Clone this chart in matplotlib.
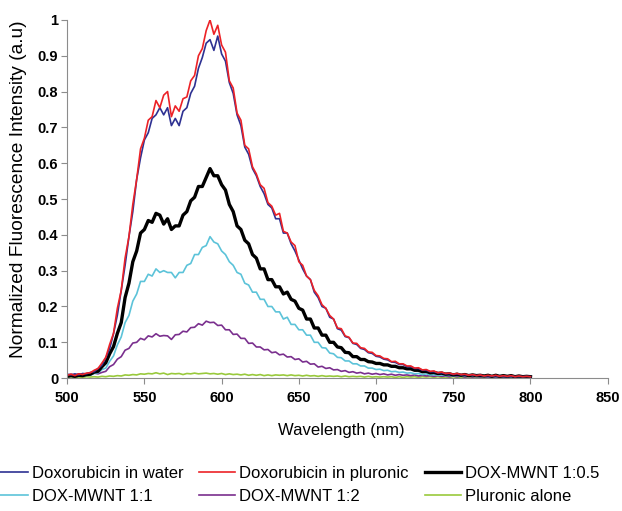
import numpy as np
import matplotlib
matplotlib.use("Agg")
import matplotlib.pyplot as plt

plt.rcParams["font.family"] = ["Liberation Sans", "DejaVu Sans"]

# wavelength grid, 2.5 nm steps from 500 to 800 nm
wavelength = np.arange(500, 800.1, 2.5)

dox_water = [
    0.011, 0.009, 0.012, 0.009, 0.013, 0.012, 0.016, 0.018, 0.027, 0.036,
    0.057, 0.082, 0.124, 0.176, 0.245, 0.315, 0.395, 0.465, 0.555, 0.615,
    0.665, 0.685, 0.725, 0.735, 0.755, 0.735, 0.755, 0.705, 0.725, 0.705,
    0.745, 0.755, 0.795, 0.815, 0.865, 0.895, 0.935, 0.945, 0.915, 0.955,
    0.905, 0.885, 0.825, 0.795, 0.735, 0.705, 0.645, 0.625, 0.585, 0.565,
    0.535, 0.515, 0.485, 0.475, 0.445, 0.445, 0.405, 0.405, 0.375, 0.355,
    0.330, 0.305, 0.285, 0.275, 0.240, 0.225, 0.200, 0.195, 0.170, 0.165,
    0.138, 0.134, 0.116, 0.113, 0.097, 0.094, 0.083, 0.080, 0.071, 0.069,
    0.061, 0.059, 0.053, 0.051, 0.045, 0.044, 0.038, 0.038, 0.032, 0.032,
    0.027, 0.027, 0.022, 0.022, 0.018, 0.018, 0.015, 0.015, 0.012, 0.013,
    0.010, 0.012, 0.009, 0.010, 0.008, 0.009, 0.007, 0.008, 0.006, 0.007,
    0.005, 0.007, 0.005, 0.006, 0.004, 0.006, 0.004, 0.005, 0.004, 0.005,
    0.004,
]
dox_pluronic = [
    0.008, 0.011, 0.007, 0.012, 0.010, 0.014, 0.015, 0.022, 0.027, 0.042,
    0.058, 0.094, 0.125, 0.195, 0.245, 0.335, 0.395, 0.485, 0.555, 0.640,
    0.670, 0.720, 0.730, 0.775, 0.755, 0.790, 0.800, 0.730, 0.760, 0.745,
    0.780, 0.785, 0.830, 0.845, 0.900, 0.920, 0.970, 1.000, 0.960, 0.985,
    0.930, 0.910, 0.830, 0.810, 0.740, 0.720, 0.650, 0.640, 0.590, 0.570,
    0.540, 0.530, 0.490, 0.480, 0.455, 0.460, 0.410, 0.405, 0.380, 0.370,
    0.325, 0.315, 0.285, 0.275, 0.245, 0.230, 0.205, 0.195, 0.175, 0.165,
    0.140, 0.138, 0.118, 0.114, 0.098, 0.097, 0.085, 0.083, 0.073, 0.072,
    0.063, 0.062, 0.055, 0.054, 0.046, 0.047, 0.040, 0.040, 0.034, 0.034,
    0.028, 0.029, 0.023, 0.024, 0.019, 0.020, 0.015, 0.017, 0.013, 0.014,
    0.011, 0.013, 0.010, 0.011, 0.008, 0.010, 0.007, 0.009, 0.006, 0.008,
    0.006, 0.008, 0.005, 0.007, 0.005, 0.007, 0.004, 0.006, 0.004, 0.005,
    0.004,
]
mwnt_1_05 = [
    0.005, 0.007, 0.005, 0.008, 0.007, 0.010, 0.011, 0.017, 0.019, 0.032,
    0.043, 0.068, 0.088, 0.125, 0.155, 0.225, 0.265, 0.325, 0.355, 0.405,
    0.415, 0.440, 0.435, 0.460, 0.455, 0.430, 0.445, 0.415, 0.425, 0.425,
    0.455, 0.465, 0.495, 0.505, 0.535, 0.535, 0.560, 0.585, 0.565, 0.565,
    0.540, 0.525, 0.485, 0.465, 0.425, 0.415, 0.385, 0.375, 0.345, 0.335,
    0.305, 0.305, 0.275, 0.275, 0.255, 0.255, 0.235, 0.240, 0.220, 0.215,
    0.195, 0.190, 0.165, 0.165, 0.140, 0.140, 0.120, 0.120, 0.100, 0.100,
    0.087, 0.085, 0.072, 0.071, 0.060, 0.060, 0.052, 0.052, 0.046, 0.045,
    0.041, 0.041, 0.037, 0.037, 0.033, 0.033, 0.029, 0.029, 0.026, 0.026,
    0.022, 0.022, 0.018, 0.019, 0.015, 0.016, 0.013, 0.014, 0.011, 0.012,
    0.009, 0.011, 0.008, 0.010, 0.007, 0.009, 0.007, 0.008, 0.006, 0.008,
    0.005, 0.008, 0.005, 0.007, 0.005, 0.007, 0.004, 0.006, 0.004, 0.005,
    0.004,
]
mwnt_1_1 = [
    0.004, 0.006, 0.004, 0.007, 0.005, 0.008, 0.008, 0.013, 0.015, 0.024,
    0.028, 0.047, 0.062, 0.093, 0.115, 0.155, 0.175, 0.215, 0.235, 0.270,
    0.270, 0.290, 0.285, 0.305, 0.295, 0.300, 0.295, 0.295, 0.280, 0.295,
    0.295, 0.315, 0.320, 0.345, 0.345, 0.365, 0.370, 0.395, 0.380, 0.375,
    0.355, 0.345, 0.325, 0.315, 0.295, 0.290, 0.265, 0.260, 0.240, 0.240,
    0.220, 0.220, 0.200, 0.200, 0.185, 0.185, 0.165, 0.170, 0.150, 0.150,
    0.135, 0.135, 0.120, 0.120, 0.100, 0.100, 0.085, 0.084, 0.070, 0.068,
    0.058, 0.057, 0.048, 0.048, 0.040, 0.040, 0.034, 0.034, 0.028, 0.028,
    0.024, 0.025, 0.021, 0.022, 0.018, 0.019, 0.016, 0.017, 0.014, 0.015,
    0.012, 0.013, 0.010, 0.012, 0.009, 0.010, 0.008, 0.009, 0.007, 0.008,
    0.006, 0.008, 0.005, 0.007, 0.005, 0.006, 0.004, 0.006, 0.004, 0.005,
    0.003, 0.005, 0.003, 0.005, 0.003, 0.004, 0.003, 0.004, 0.002, 0.004,
    0.003,
]
mwnt_1_2 = [
    0.008, 0.011, 0.008, 0.012, 0.009, 0.012, 0.011, 0.014, 0.012, 0.016,
    0.019, 0.032, 0.038, 0.053, 0.060, 0.078, 0.083, 0.098, 0.100, 0.111,
    0.107, 0.118, 0.115, 0.124, 0.117, 0.119, 0.118, 0.108, 0.121, 0.122,
    0.131, 0.129, 0.141, 0.142, 0.152, 0.148, 0.159, 0.155, 0.156, 0.147,
    0.148, 0.135, 0.135, 0.122, 0.123, 0.111, 0.111, 0.097, 0.098, 0.087,
    0.087, 0.079, 0.080, 0.071, 0.073, 0.065, 0.067, 0.059, 0.060, 0.052,
    0.054, 0.045, 0.047, 0.039, 0.040, 0.031, 0.033, 0.027, 0.029, 0.023,
    0.024, 0.019, 0.021, 0.016, 0.018, 0.014, 0.016, 0.012, 0.014, 0.011,
    0.013, 0.010, 0.012, 0.009, 0.011, 0.008, 0.010, 0.008, 0.009, 0.007,
    0.009, 0.006, 0.008, 0.006, 0.007, 0.005, 0.007, 0.005, 0.006, 0.004,
    0.006, 0.004, 0.006, 0.003, 0.005, 0.003, 0.005, 0.003, 0.005, 0.002,
    0.004, 0.002, 0.004, 0.002, 0.004, 0.002, 0.004, 0.002, 0.004, 0.002,
    0.003,
]
pluronic_alone = [
    0.002, 0.004, 0.002, 0.003, 0.002, 0.004, 0.003, 0.004, 0.003, 0.005,
    0.004, 0.006, 0.005, 0.007, 0.006, 0.009, 0.008, 0.010, 0.009, 0.012,
    0.011, 0.013, 0.012, 0.015, 0.012, 0.014, 0.010, 0.013, 0.012, 0.013,
    0.010, 0.013, 0.012, 0.014, 0.012, 0.013, 0.014, 0.012, 0.013, 0.011,
    0.013, 0.010, 0.012, 0.010, 0.011, 0.009, 0.011, 0.008, 0.010, 0.008,
    0.010, 0.007, 0.009, 0.007, 0.009, 0.008, 0.009, 0.007, 0.009, 0.007,
    0.008, 0.006, 0.008, 0.006, 0.007, 0.005, 0.007, 0.005, 0.006, 0.005,
    0.006, 0.004, 0.006, 0.004, 0.005, 0.004, 0.005, 0.003, 0.005, 0.003,
    0.004, 0.003, 0.004, 0.003, 0.004, 0.002, 0.004, 0.002, 0.004, 0.003,
    0.004, 0.002, 0.004, 0.003, 0.004, 0.002, 0.004, 0.002, 0.003, 0.002,
    0.004, 0.002, 0.003, 0.002, 0.004, 0.002, 0.003, 0.002, 0.004, 0.002,
    0.003, 0.002, 0.003, 0.002, 0.004, 0.002, 0.003, 0.002, 0.003, 0.002,
    0.003,
]

# (label, data, colour, linewidth) in drawing order
series = [
    ("Pluronic alone", pluronic_alone, "#99c93c", 1.2),
    ("DOX-MWNT 1:2", mwnt_1_2, "#7a2f8e", 1.2),
    ("DOX-MWNT 1:1", mwnt_1_1, "#5cc3d9", 1.2),
    ("DOX-MWNT 1:0.5", mwnt_1_05, "#000000", 2.4),
    ("Doxorubicin in water", dox_water, "#2e3192", 1.2),
    ("Doxorubicin in pluronic", dox_pluronic, "#ec2227", 1.2),
]
legend_order = ["Doxorubicin in water", "DOX-MWNT 1:1",
                "Doxorubicin in pluronic", "DOX-MWNT 1:2",
                "DOX-MWNT 1:0.5", "Pluronic alone"]

fig = plt.figure(figsize=(6.22, 5.11), dpi=100)
ax = fig.add_axes([0.108, 0.260, 0.869, 0.701])

lines = {}
for label, data, color, lw in series:
    lines[label], = ax.plot(wavelength, data, color=color, lw=lw, label=label)

ax.set_xlim(500, 850)
ax.set_ylim(0, 1)
ax.set_xticks(np.arange(500, 851, 50))
ax.set_yticks(np.arange(0, 1.01, 0.1))
ax.set_yticklabels(["0"] + [f"{v:.1f}" for v in np.arange(0.1, 0.95, 0.1)] + ["1"])

for side in ("top", "right"):
    ax.spines[side].set_visible(False)
for side in ("left", "bottom"):
    ax.spines[side].set_color("#8c8c8c")
ax.tick_params(axis="both", direction="out", length=4, color="#8c8c8c",
               labelsize=10.5)
ax.tick_params(axis="x", pad=5)
ax.tick_params(axis="y", pad=2.5)
for t in ax.get_xticklabels() + ax.get_yticklabels():
    t.set_fontweight("bold")

ax.set_xlabel("Wavelength (nm)", fontsize=12, labelpad=13)
ax.xaxis.set_label_coords(0.508, -0.125)
ax.set_ylabel("Normalized Fluorescence Intensity (a.u)", fontsize=13.8)
ax.yaxis.set_label_coords(-0.074, 0.528)

fig.legend([lines[k] for k in legend_order], legend_order, ncol=3,
           loc="upper left", bbox_to_anchor=(-0.024, 0.102), frameon=False,
           fontsize=12, handlelength=2.15, handletextpad=0.25,
           columnspacing=0.96, labelspacing=0.5, borderaxespad=0)

fig.savefig("out.png", dpi=100)
